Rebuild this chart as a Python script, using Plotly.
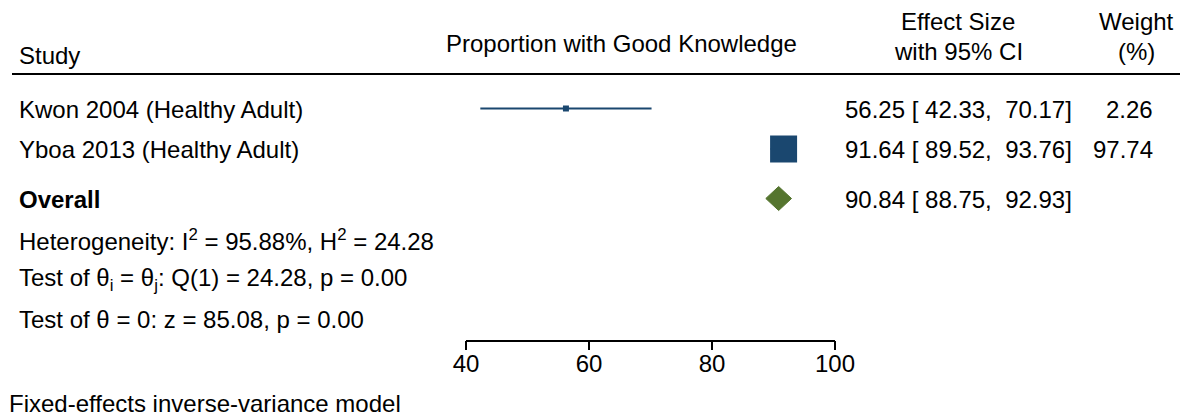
import plotly.graph_objects as go

# ---- data ----
studies = ["Kwon 2004 (Healthy Adult)", "Yboa 2013 (Healthy Adult)"]
effect = [56.25, 91.64]
ci_low = [42.33, 89.52]
ci_high = [70.17, 93.76]
weight = [2.26, 97.74]

overall_label = "Overall"
overall_effect = 90.84
overall_low = 88.75
overall_high = 92.93

stats_lines = [
    "Heterogeneity: I<sup>2</sup> = 95.88%, H<sup>2</sup> = 24.28",
    "Test of θ<sub>i</sub> = θ<sub>j</sub>: Q(1) = 24.28, p = 0.00",
    "Test of θ = 0: z = 85.08, p = 0.00",
]
footer = "Fixed-effects inverse-variance model"
x_ticks = [40, 60, 80, 100]

# ---- layout constants (pixels, in the 1189x419 page) ----
PAGE_W, PAGE_H = 1189, 419
OFF = 8  # page body margin
W, H = PAGE_W - OFF, PAGE_H - OFF
FONT = "Liberation Sans, Arial, Helvetica, sans-serif"
FS = 24
BLUE = "#1a476f"
GREEN = "#55752f"
row_y = [108.5, 149.0]
overall_y = 198.5
stats_y = [240.0, 279.0, 319.0]
axis_y = 340.7


def px(x):
    return (x - OFF) / W


def fmt_ci(e, l, h):
    nb = "\u00a0"
    return f"{e:.2f}{nb}[{nb}{l:.2f},{nb}{nb}{h:.2f}]"


fig = go.Figure()

# CI lines
for i in range(len(studies)):
    fig.add_trace(go.Scatter(
        x=[ci_low[i], ci_high[i]], y=[row_y[i], row_y[i]],
        mode="lines", line=dict(color=BLUE, width=2),
        showlegend=False, hoverinfo="skip"))

# weight squares
wmax = max(weight)
sizes = [max(6, 27 * (w / wmax) ** 0.5) for w in weight]
fig.add_trace(go.Scatter(
    x=effect, y=row_y, mode="markers",
    marker=dict(symbol="square", size=sizes, color=BLUE, opacity=1,
                line=dict(width=0)),
    showlegend=False, hoverinfo="skip"))

# overall diamond
dh = 12
fig.add_trace(go.Scatter(
    x=[overall_low, overall_effect, overall_high, overall_effect, overall_low],
    y=[overall_y, overall_y - dh, overall_y, overall_y + dh, overall_y],
    mode="lines", fill="toself", fillcolor=GREEN, line=dict(color=GREEN, width=1),
    showlegend=False, hoverinfo="skip"))

ann = []


def add_text(x, y, text, xanchor="left", bold=False, size=FS, pad=1):
    if bold:
        text = f"<b>{text}</b>"
    ann.append(dict(x=px(x), y=y, xref="paper", yref="y", text=text,
                    showarrow=False, xanchor=xanchor, yanchor="middle",
                    borderpad=pad,
                    font=dict(family=FONT, size=size, color="black")))


# headers
add_text(17, 55, "Study")
add_text(621, 43.5, "Proportion with Good Knowledge", xanchor="center")
add_text(958, 21.5, "Effect Size", xanchor="center")
add_text(958, 51, "with 95% CI", xanchor="center")
add_text(1136, 21.5, "Weight", xanchor="center")
add_text(1136, 51, "(%)", xanchor="center")

# study rows
for i, s in enumerate(studies):
    add_text(17, row_y[i] + 0.5, s)
    add_text(843, row_y[i] + 0.5, fmt_ci(effect[i], ci_low[i], ci_high[i]))
    add_text(1155, row_y[i] + 0.5, f"{weight[i]:.2f}", xanchor="right")

add_text(17, overall_y + 0.5, overall_label, bold=True)
add_text(843, overall_y + 0.5, fmt_ci(overall_effect, overall_low, overall_high))

for y, t in zip(stats_y, stats_lines):
    add_text(17, y, t)

add_text(OFF, 403.5, footer, pad=0)

fig.update_layout(
    width=W, height=H, autosize=False,
    margin=dict(l=0, r=0, t=0, b=0, pad=0, autoexpand=False),
    paper_bgcolor="white", plot_bgcolor="white",
    annotations=ann,
    shapes=[dict(type="line", xref="paper", yref="y", x0=px(12), x1=px(1180),
                 y0=74, y1=74, line=dict(color="black", width=2))],
    xaxis=dict(domain=[px(466), px(835)], range=[40, 100], tickvals=x_ticks,
               ticks="outside", ticklen=9, tickwidth=1.5, tickcolor="black",
               showline=True, linewidth=1.5, linecolor="black",
               showgrid=False, zeroline=False, anchor="free",
               position=1 - (axis_y - OFF) / H, automargin=False,
               ticklabelstandoff=-7,
               tickfont=dict(family=FONT, size=FS, color="black")),
    yaxis=dict(domain=[0, 1], range=[PAGE_H, OFF], visible=False,
               showgrid=False, zeroline=False, automargin=False),
)

fig.write_html("out.html")
